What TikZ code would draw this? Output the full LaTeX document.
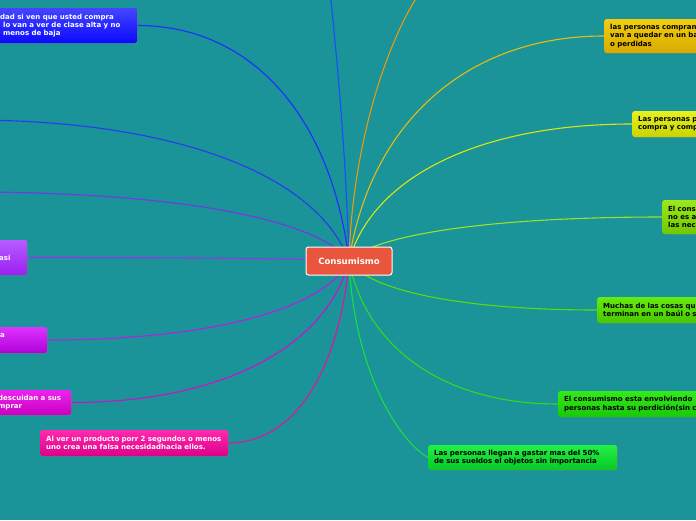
\documentclass[tikz,border=0pt]{standalone}
\usepackage{fontspec}
\setmainfont{DejaVu Sans}
\usetikzlibrary{calc,shadows}
\pgfdeclarelayer{bg}\pgfdeclarelayer{lines}\pgfsetlayers{bg,lines,main}
\definecolor{bgteal}{HTML}{1A9399}
\definecolor{cred}{HTML}{E9553D}
\definecolor{t1}{HTML}{4545FF}\definecolor{d1}{HTML}{0A0AFF}\definecolor{l1}{HTML}{1E2EFF}
\definecolor{le1}{HTML}{2A3AF0}\definecolor{le2}{HTML}{7A35E8}
\definecolor{t3}{HTML}{B65CFF}\definecolor{d3}{HTML}{9B20F2}\definecolor{l3}{HTML}{9B30F5}
\definecolor{t4}{HTML}{DD33FF}\definecolor{d4}{HTML}{B000D8}\definecolor{l4}{HTML}{B520E0}
\definecolor{t5}{HTML}{EE22EE}\definecolor{d5}{HTML}{C800C0}\definecolor{l5}{HTML}{D010C8}
\definecolor{t6}{HTML}{FF2AB0}\definecolor{d6}{HTML}{DD0088}\definecolor{l6}{HTML}{E0159A}
\definecolor{t7}{HTML}{F2CE10}\definecolor{d7}{HTML}{D8AA00}\definecolor{l7}{HTML}{E6BE10}
\definecolor{t8}{HTML}{E8F020}\definecolor{d8}{HTML}{C8D400}\definecolor{l8}{HTML}{D8E810}
\definecolor{t9}{HTML}{9CE81A}\definecolor{d9}{HTML}{70C800}\definecolor{l9}{HTML}{9CE030}
\definecolor{t10}{HTML}{66EA10}\definecolor{d10}{HTML}{48C800}\definecolor{l10}{HTML}{58DC10}
\definecolor{t11}{HTML}{33EA1A}\definecolor{d11}{HTML}{18C808}\definecolor{l11}{HTML}{30DC20}
\definecolor{t12}{HTML}{22F045}\definecolor{d12}{HTML}{08C825}\definecolor{l12}{HTML}{18E040}
\definecolor{le3}{HTML}{1E4CFF}\definecolor{le4}{HTML}{E89A10}
\tikzset{
  box/.style={rectangle, rounded corners=2.5pt, anchor=west, inner xsep=6pt, inner ysep=0pt,
    align=left, font=\fontsize{7}{8.3}\selectfont\bfseries,
    drop shadow={opacity=0.35, shadow xshift=0.8pt, shadow yshift=-1pt}},
  centre/.style={rectangle, rounded corners=2.5pt, fill=cred, draw=white, line width=1pt,
    minimum width=86pt, minimum height=28pt, text=white, inner sep=0pt,
    font=\fontsize{8.6}{10}\selectfont\bfseries},
  conline/.style={line width=1.1pt}
}
\newcommand\mkbox[9]{%
  \node[box, top color=#6, bottom color=#7, text=#8,
        minimum height={(#5-#3)*1pt}, text width={(#4-#2-12)*1pt}]
     (#1) at ({#2},{(#3+#5)/2}) {#9};}
\newcommand\conn[3]{%
  \draw[conline,#1] let \p1=(#2), \p2=(#3) in
    (\p1) .. controls ({\x1+0.08*(\x2-\x1)},{\y1+0.6*(\y2-\y1)})
             and ({\x1+0.45*(\x2-\x1)},{\y2}) .. (\p2);}
\begin{document}
\begin{tikzpicture}[x=1pt,y=-1pt]
\useasboundingbox (0,0) rectangle (696,520);
\begin{scope}
\clip (0,0) rectangle (696,520);
\node[centre] (c) at (349,261) {Consumismo};
\mkbox{b1}{-6}{8}{137}{43}{t1}{d1}{white}{dad si ven que usted compra\\\hspace*{3pt}lo van a ver de clase alta y no\\\hspace*{3pt}menos de baja}
\mkbox{b3}{-7}{240}{27}{275}{t3}{d3}{white}{asi}
\mkbox{b4}{-6}{327}{47}{353}{t4}{d4}{white}{a\\\mbox{}}
\mkbox{b5}{-8}{390}{71}{415}{t5}{d5}{white}{descuidan a sus\\mprar}
\mkbox{b6}{40}{430}{228}{456}{t6}{d6}{white}{Al ver un producto porr 2 segundos o menos\\uno crea una falsa necesidadhacia ellos.}
\mkbox{b7}{604}{19}{780}{53}{t7}{d7}{black}{las personas compran\\van a quedar en un ba\\o perdidas}
\mkbox{b8}{632}{111}{780}{137}{t8}{d8}{black}{Las personas p\\compra y comp}
\mkbox{b9}{662}{200}{780}{234}{t9}{d9}{black}{El cons\\no es a\\las nec}
\mkbox{b10}{597}{297}{780}{323}{t10}{d10}{black}{Muchas de las cosas qu\\terminan en un baúl o s}
\mkbox{b11}{558}{391}{780}{417}{t11}{d11}{black}{El consumismo esta envolviendo\\personas hasta su perdición(sin c}
\mkbox{b12}{428}{445}{617}{470}{t12}{d12}{black}{Las personas llegan a gastar mas del 50\%\\de sus sueldos el objetos sin importancia}
\coordinate (e1) at (-30,120);
\coordinate (e2) at (-30,192);
\coordinate (e3) at (330,-10);
\coordinate (e4) at (425,-15);
\end{scope}
\begin{pgfonlayer}{lines}
\clip (0,0) rectangle (696,520);
\draw[conline, le3] (c.center) .. controls (346,150) and (336,50) .. (e3);
\draw[conline, le4] (c.center) .. controls (352,150) and (385,40) .. (e4);
\conn{l1}{c.center}{b1.east}
\conn{le1}{c.center}{e1}
\conn{le2}{c.center}{e2}
\conn{l3}{c.center}{b3.east}
\conn{l4}{c.center}{b4.east}
\conn{l5}{c.center}{b5.east}
\conn{l6}{c.center}{b6.east}
\conn{l7}{c.center}{b7.west}
\conn{l8}{c.center}{b8.west}
\conn{l9}{c.center}{b9.west}
\conn{l10}{c.center}{b10.west}
\conn{l11}{c.center}{b11.west}
\draw[conline, l12] (c.center) .. controls (354,370) and (398,440) .. (b12.west);
\end{pgfonlayer}
\begin{pgfonlayer}{bg}
\fill[bgteal] (0,0) rectangle (696,520);
\end{pgfonlayer}
\end{tikzpicture}
\end{document}
